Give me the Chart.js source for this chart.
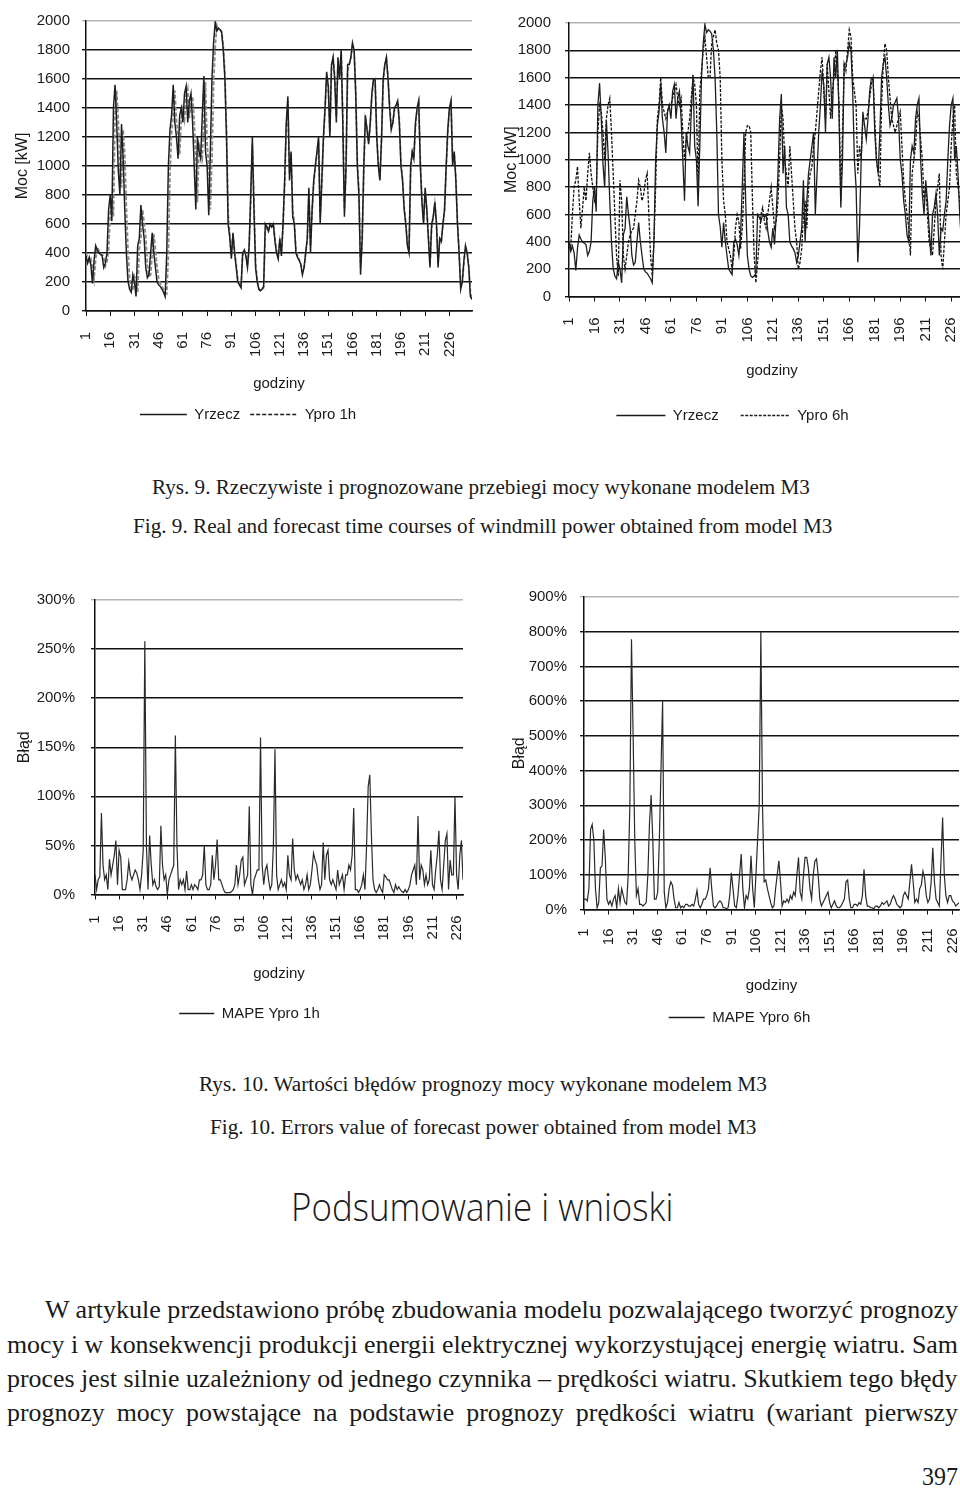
<!DOCTYPE html>
<html lang="pl">
<head>
<meta charset="utf-8">
<title>Rys. 9 i Rys. 10 - model M3</title>
<script src="https://cdn.jsdelivr.net/npm/chart.js@4.4.1/dist/chart.umd.min.js"></script>
<style>
     html, body { margin: 0; padding: 0; background: #fff; }
     body { position: relative; width: 960px; height: 1491px; overflow: hidden; }
     canvas { position: absolute; }
     .fit { position: absolute; white-space: nowrap; line-height: 1; color: #1a1a1a; transform-origin: 0 50%; }
     .serif { font-family: "Liberation Serif", "Times New Roman", serif; }
     .head { font-family: "Open Sans", "Noto Sans", sans-serif; font-weight: 300; }
</style>
</head>
<body>
<canvas id="powerChart1h" width="480" height="432" style="left:0px;top:0px"></canvas>
<canvas id="powerChart6h" width="495" height="433" style="left:490px;top:0px"></canvas>
<canvas id="errorChart1h" width="480" height="456" style="left:0px;top:575px"></canvas>
<canvas id="errorChart6h" width="480" height="460" style="left:490px;top:575px"></canvas>

<div class="fit serif" style="font-size:20px" data-x1="152" data-x2="810" data-cy="487">Rys. 9. Rzeczywiste i prognozowane przebiegi mocy wykonane modelem M3</div>
<div class="fit serif" style="font-size:20px" data-x1="133" data-x2="832" data-cy="526">Fig. 9. Real and forecast time courses of windmill power obtained from model M3</div>
<div class="fit serif" style="font-size:20px" data-x1="199" data-x2="767" data-cy="1084">Rys. 10. Wartości błędów prognozy mocy wykonane modelem M3</div>
<div class="fit serif" style="font-size:20px" data-x1="210" data-x2="756" data-cy="1127">Fig. 10. Errors value of forecast power obtained from model M3</div>
<div class="fit head" style="font-size:38px" data-x1="291" data-x2="673" data-cy="1206">Podsumowanie i wnioski</div>
<div class="fit serif" style="font-size:25px" data-x1="45" data-x2="958" data-cy="1309">W artykule przedstawiono próbę zbudowania modelu pozwalającego tworzyć prognozy</div>
<div class="fit serif" style="font-size:25px" data-x1="7" data-x2="958" data-cy="1344">mocy i w konsekwencji produkcji energii elektrycznej wykorzystującej energię wiatru. Sam</div>
<div class="fit serif" id="line3" style="font-size:25px" data-x1="7" data-x2="958" data-cy="1378">proces jest silnie uzależniony od jednego czynnika – prędkości wiatru. Skutkiem tego błędy</div>
<div class="serif" id="line4" style="position:absolute;font-size:25px;line-height:1;color:#1a1a1a;transform-origin:0 50%;text-align:justify;text-align-last:justify" data-x1="7" data-x2="958" data-cy="1412">prognozy mocy powstające na podstawie prognozy prędkości wiatru (wariant pierwszy</div>
<div class="fit serif" style="font-size:26px" data-x1="922" data-x2="958" data-cy="1477">397</div>

<script>
// godziny na osi X
const hours240 = Array.from({ length: 240 }, (_, i) => i + 1);
const hours230 = Array.from({ length: 230 }, (_, i) => i + 1);
const hourTicks = [1, 16, 31, 46, 61, 76, 91, 106, 121, 136, 151, 166, 181, 196, 211, 226];

// moc rzeczywista [kW]
const yrzecz = [
     380, 330, 370, 320, 190, 350, 450, 420, 400, 390,
     380, 300, 330, 400, 700, 800, 620, 1400, 1560, 1300,
     970, 800, 1290, 1050, 700, 400, 206, 150, 130, 250,
     200, 100, 450, 500, 730, 600, 500, 300, 230, 250,
     400, 540, 400, 300, 200, 180, 170, 150, 130, 100,
     400, 1000, 1250, 1350, 1560, 1300, 1200, 1050, 1350, 1400,
     1300, 1500, 1550, 1300, 1450, 1500, 1300, 1000, 700, 1200,
     1100, 1050, 1350, 1620, 1100, 1000, 660, 1100, 1600, 1850,
     1990, 1930, 1950, 1940, 1920, 1800, 1600, 1200, 600, 510,
     360, 540, 400, 300, 200, 180, 160, 400, 420, 380,
     300, 450, 800, 1200, 700, 300, 200, 150, 140, 150,
     170, 600, 580, 550, 600, 580, 600, 480, 400, 360,
     500, 380, 600, 900, 1300, 1480, 900, 1100, 650, 600,
     400, 370, 350, 320, 250, 300, 400, 500, 850, 400,
     700, 900, 1000, 1100, 1200, 600, 900, 1200, 1400, 1650,
     1550, 1200, 1700, 1750, 1600, 1300, 1750, 1600, 1805, 1300,
     650, 1000, 1700, 1700, 1750, 1850, 1800, 1500, 1000, 800,
     250, 500, 1000, 1350, 1250, 1150, 1300, 1500, 1600, 1600,
     1200, 1000, 900, 1200, 1600, 1700, 1750, 1600, 1400, 1250,
     1300, 1400, 1420, 1450, 1300, 1000, 900, 700, 600, 450,
     400, 1000, 1100, 1050, 1300, 1400, 1450, 1000, 750, 600,
     850, 700, 500, 300, 600, 650, 750, 600, 300, 500,
     480, 600, 700, 1000, 1250, 1400, 1450, 1000, 1100, 900,
     600, 400, 150, 200, 350, 450, 400, 300, 100, 80
];

// prognoza 1h [kW]
const ypro1h = [
     400, 370, 340, 360, 300, 220, 360, 440, 420, 400,
     390, 370, 310, 340, 420, 680, 780, 650, 1350, 1520,
     1320, 1000, 850, 1250, 1080, 720, 420, 230, 160, 140,
     240, 210, 130, 430, 500, 700, 610, 510, 320, 240,
     250, 390, 530, 420, 310, 220, 190, 170, 150, 130,
     120, 380, 950, 1230, 1350, 1520, 1320, 1210, 1080, 1320,
     1390, 1320, 1480, 1530, 1330, 1430, 1480, 1320, 1030, 750,
     1150, 1120, 1060, 1320, 1580, 1150, 1010, 700, 1050, 1560,
     1820, 1970, 1940, 1940, 1930, 1830, 1640, 1250, 680, 530,
     380, 520, 420, 320, 220, 190, 170, 380, 420, 390,
     310, 430, 770, 1150, 760, 330, 220, 160, 140, 150,
     160, 550, 580, 560, 590, 580, 600, 500, 410, 370,
     480, 400, 580, 870, 1250, 1450, 950, 1080, 690, 610,
     420, 380, 350, 330, 270, 290, 390, 490, 800, 450,
     680, 880, 990, 1080, 1180, 650, 870, 1170, 1380, 1620,
     1560, 1240, 1660, 1740, 1620, 1340, 1710, 1620, 1780, 1350,
     700, 960, 1650, 1700, 1740, 1830, 1800, 1530, 1050, 820,
     300, 480, 960, 1320, 1260, 1170, 1280, 1480, 1590, 1600,
     1230, 1020, 910, 1170, 1570, 1690, 1740, 1620, 1420, 1270,
     1290, 1390, 1410, 1440, 1320, 1040, 910, 720, 610, 470,
     410, 950, 1090, 1060, 1270, 1390, 1440, 1050, 780, 620,
     820, 710, 520, 320, 570, 640, 740, 620, 330, 480,
     480, 590, 690, 970, 1220, 1390, 1440, 1050, 1090, 920,
     620, 420, 180, 200, 330, 440, 410, 310, 130, 90
];

// prognoza 6h [kW]
const ypro6h = [
     400, 350, 600, 800, 850, 950, 700, 500, 650, 800,
     700, 900, 1050, 900, 800, 700, 750, 1200, 1400, 1350,
     1200, 1000, 1300, 1400, 1450, 1200, 900, 600, 300, 150,
     850, 700, 300, 200, 300, 400, 450, 480, 500, 600,
     700, 850, 800, 700, 750, 850, 900, 600, 300, 150,
     400, 800, 1300, 1400, 1600, 1400, 1350, 1300, 1350, 1400,
     1400, 1450, 1500, 1550, 1450, 1400, 1450, 1200, 1000, 1150,
     1200, 1300, 1450, 1600, 1550, 1400, 800, 1500, 1650, 1800,
     1900, 1750, 1600, 1600, 1850, 1900, 1950, 1850, 1800, 1600,
     1000, 700, 600, 400, 350, 300, 200, 300, 500, 600,
     550, 350, 500, 800, 1200, 1250, 1250, 1200, 700, 300,
     100, 250, 400, 600, 650, 550, 500, 600, 700, 800,
     650, 500, 550, 700, 1000, 1400, 1300, 1000, 900, 800,
     1100, 900, 700, 500, 400, 200, 250, 350, 600, 700,
     500, 800, 900, 950, 1100, 1200, 1350, 1500, 1650, 1750,
     1500, 1300, 1700, 1500, 1300, 1500, 1600, 1800, 1650, 1400,
     700, 1200, 1700, 1650, 1800, 1950, 1900, 1600, 1500, 1400,
     900, 1100, 1000, 1300, 1300, 1300, 1350, 1450, 1550, 1600,
     1300, 1000, 900, 800, 1400, 1700, 1850, 1800, 1600, 1450,
     1300, 1250, 1200, 1250, 1300, 1350, 1100, 850, 700, 600,
     500, 300, 900, 1000, 1100, 1350, 1300, 1150, 1000, 700,
     800, 600, 400, 350, 300, 500, 700, 800, 900, 300,
     200, 400, 600, 700, 800, 1100, 1300, 1400, 900, 800,
     700, 600, 500, 400, 300, 350, 450, 400, 300, 200
];

// MAPE [%] prognozy 1h
const mape1h = [
     20, 5, 15, 18, 83, 30, 15, 20, 5, 36,
     20, 30, 40, 55, 10, 45, 38, 5, 5, 5,
     15, 33, 20, 15, 20, 25, 22, 15, 5, 20,
     45, 258, 50, 5, 60, 30, 10, 15, 8, 5,
     8, 70, 30, 15, 20, 0, 15, 20, 25, 30,
     162, 50, 5, 15, 10, 15, 5, 24, 5, 5,
     10, 5, 10, 8, 5, 15, 15, 20, 50, 10,
     5, 5, 10, 40, 15, 30, 56, 15, 15, 10,
     5, 2, 2, 2, 2, 3, 5, 10, 30, 10,
     20, 35, 38, 10, 15, 20, 90, 10, 0, 15,
     20, 25, 25, 160, 30, 10, 25, 30, 15, 5,
     10, 50, 148, 20, 5, 10, 15, 8, 12, 5,
     40, 20, 15, 57, 25, 15, 20, 15, 10, 15,
     5, 10, 20, 5, 10, 25, 42, 35, 30, 15,
     5, 10, 53, 15, 40, 45, 15, 10, 15, 10,
     5, 25, 10, 15, 20, 5, 20, 20, 30, 25,
     40, 88, 5, 5, 2, 5, 10, 20, 5, 50,
     110, 122, 60, 15, 5, 2, 5, 10, 5, 2,
     20, 18, 15, 15, 10, 5, 2, 10, 5, 8,
     5, 3, 2, 5, 2, 5, 10, 20, 25, 30,
     10, 80, 15, 30, 25, 10, 20, 10, 15, 45,
     10, 5, 25, 40, 65, 15, 5, 30, 55, 62,
     5, 35, 20, 20, 100, 20, 5, 40, 55, 15
];

// MAPE [%] prognozy 6h
const mape6h = [
     30, 30, 25, 60, 230, 245, 200, 60, 5, 20,
     120, 125, 230, 150, 30, 15, 25, 10, 30, 40,
     5, 60, 20, 60, 40, 20, 15, 100, 300, 778,
     500, 200, 40, 60, 15, 15, 10, 15, 20, 100,
     250, 330, 200, 30, 30, 50, 200, 400, 600, 50,
     5, 20, 60, 80, 70, 30, 5, 5, 20, 5,
     10, 5, 15, 15, 10, 10, 15, 10, 30, 55,
     15, 5, 15, 30, 30, 40, 60, 120, 60, 10,
     5, 10, 20, 25, 20, 5, 5, 2, 5, 40,
     106, 60, 10, 5, 40, 100, 160, 60, 5, 40,
     30, 60, 155, 60, 5, 100, 200, 300, 800, 300,
     80, 85, 60, 40, 20, 5, 10, 60, 100, 140,
     80, 10, 25, 20, 30, 20, 40, 30, 50, 40,
     100, 150, 50, 30, 100, 150, 150, 120, 60, 30,
     100, 140, 146, 100, 30, 10, 20, 30, 40, 50,
     20, 5, 15, 25, 10, 5, 5, 10, 20, 30,
     80, 85, 30, 5, 5, 15, 15, 10, 20, 15,
     40, 116, 40, 10, 10, 5, 5, 2, 10, 10,
     5, 10, 20, 15, 20, 25, 10, 15, 30, 40,
     30, 15, 10, 5, 10, 40, 50, 40, 30, 80,
     130, 80, 20, 30, 20, 60, 70, 110, 90, 40,
     20, 30, 80, 178, 80, 30, 20, 10, 140, 265,
     100, 40, 20, 40, 40, 25, 20, 10, 15, 20
];

Chart.defaults.font.family = '"Liberation Sans", Arial, sans-serif';
Chart.defaults.font.size = 15;
Chart.defaults.color = '#1a1a1a';

function kw(v) { return String(v); }
function pct(v) { return v + '%'; }

// legend samples: plain dark line, dashed when the dataset is dashed
function legendItems(chart) {
     var items = Chart.defaults.plugins.legend.labels.generateLabels(chart);
     items.forEach(function (it) {
          var ds = chart.data.datasets[it.datasetIndex];
          it.lineDash = ds.borderDash || [];
          it.strokeStyle = '#1a1a1a';
          it.lineWidth = 1.3;
     });
     return items;
}

function createChart(canvasId, o) {
     var ctx = document.getElementById(canvasId).getContext('2d');
     return new Chart(ctx, {
          type: 'line',
          data: { labels: o.labels, datasets: o.datasets },
          options: {
               responsive: false,
               animation: false,
               events: [],
               layout: { padding: o.padding },
               elements: { point: { radius: 0 }, line: { tension: 0 } },
               plugins: {
                    tooltip: { enabled: false },
                    legend: {
                         position: 'bottom',
                         labels: {
                              usePointStyle: true,
                              pointStyle: 'line',
                              pointStyleWidth: o.legendLine,
                              padding: o.legendPad,
                              font: { size: 15 },
                              generateLabels: legendItems
                         }
                    }
               },
               scales: {
                    x: {
                         type: 'linear',
                         min: 1,
                         max: o.labels.length,
                         afterBuildTicks: function (scale) {
                              scale.ticks = hourTicks.map(function (v) { return { value: v }; });
                         },
                         afterFit: function (scale) {
                              scale.height = o.xHeight;
                              scale.paddingLeft = 0;
                              scale.paddingRight = 0;
                         },
                         grid: { drawOnChartArea: false, tickLength: 5, color: '#111', lineWidth: 1 },
                         border: { color: '#111', width: 1.5 },
                         ticks: { minRotation: 90, maxRotation: 90, autoSkip: false, padding: o.xTickPad, callback: kw },
                         title: { display: true, text: 'godziny', font: { size: 15 }, padding: { top: 4, bottom: o.xTitlePad } }
                    },
                    y: {
                         min: 0,
                         max: o.yMax,
                         afterFit: function (scale) { scale.width = o.yWidth; },
                         ticks: { stepSize: o.yStep, padding: o.yTickPad, callback: o.yFormat },
                         grid: {
                              color: function (c) { return c.tick && c.tick.value === o.yMax ? '#b4b4b4' : '#111'; },
                              lineWidth: 1.4,
                              tickLength: 4
                         },
                         border: { color: '#111', width: 1.5 },
                         title: { display: true, text: o.yTitle, font: { size: 16 }, padding: { top: o.yTitlePad, bottom: 0 } }
                    }
               }
          }
     });
}

function placeTexts() {
     document.querySelectorAll('.fit').forEach(function (el) {
          var x1 = +el.dataset.x1, x2 = +el.dataset.x2, cy = +el.dataset.cy;
          el.style.left = x1 + 'px';
          el.style.top = (cy - el.offsetHeight / 2) + 'px';
          el.style.transform = 'scaleX(' + ((x2 - x1) / el.offsetWidth).toFixed(4) + ')';
     });
     // last line of the paragraph is justified with the same letter scale as the line above
     var l3 = document.getElementById('line3');
     var s = (+l3.dataset.x2 - +l3.dataset.x1) / l3.offsetWidth;
     var l4 = document.getElementById('line4');
     var w = +l4.dataset.x2 - +l4.dataset.x1;
     l4.style.width = (w / s) + 'px';
     l4.style.left = l4.dataset.x1 + 'px';
     l4.style.top = (+l4.dataset.cy - l4.offsetHeight / 2) + 'px';
     l4.style.transform = 'scaleX(' + s.toFixed(4) + ')';
}

document.addEventListener('DOMContentLoaded', function () {
     createChart('powerChart1h', {
          labels: hours240,
          datasets: [
               { label: 'Yrzecz', data: yrzecz, borderColor: '#1e1e1e', borderWidth: 1.5 },
               { label: 'Ypro 1h', data: ypro1h, borderColor: '#8a8a8a', borderWidth: 1.8, borderDash: [4, 2] }
          ],
          padding: { top: 10, left: 24, right: 8, bottom: 0 },
          yWidth: 62, yMax: 2000, yStep: 200, yFormat: kw, yTickPad: 12, yTitle: 'Moc [kW]', yTitlePad: -11,
          xHeight: 86, xTickPad: 16, xTitlePad: 4,
          legendLine: 47, legendPad: 10
     });

     createChart('powerChart6h', {
          labels: hours240,
          datasets: [
               { label: 'Yrzecz', data: yrzecz, borderColor: '#1e1e1e', borderWidth: 1.3 },
               { label: 'Ypro 6h', data: ypro6h, borderColor: '#111', borderWidth: 1.3, borderDash: [3, 1.5] }
          ],
          padding: { top: 15, left: 0, right: 10, bottom: 0 },
          yWidth: 79, yMax: 2000, yStep: 200, yFormat: kw, yTickPad: 14, yTitle: 'Moc [kW]', yTitlePad: 12,
          xHeight: 89.5, xTickPad: 16, xTitlePad: 6.5,
          legendLine: 49, legendPad: 22
     });

     createChart('errorChart1h', {
          labels: hours230,
          datasets: [
               { label: 'MAPE Ypro 1h', data: mape1h, borderColor: '#2a2a2a', borderWidth: 1.2 }
          ],
          padding: { top: 13, left: 36, right: 17, bottom: 0 },
          yWidth: 59, yMax: 300, yStep: 50, yFormat: pct, yTickPad: 16, yTitle: 'Błąd', yTitlePad: -21,
          xHeight: 101.5, xTickPad: 16, xTitlePad: 13.5,
          legendLine: 35, legendPad: 10
     });

     createChart('errorChart6h', {
          labels: hours230,
          datasets: [
               { label: 'MAPE Ypro 6h', data: mape6h, borderColor: '#2a2a2a', borderWidth: 1.2 }
          ],
          padding: { top: 11, left: 30, right: 11, bottom: 0 },
          yWidth: 64, yMax: 900, yStep: 100, yFormat: pct, yTickPad: 13, yTitle: 'Błąd', yTitlePad: -10,
          xHeight: 90.5, xTickPad: 14, xTitlePad: 5.5,
          legendLine: 36, legendPad: 10
     });

     placeTexts();
});
</script>
</body>
</html>
